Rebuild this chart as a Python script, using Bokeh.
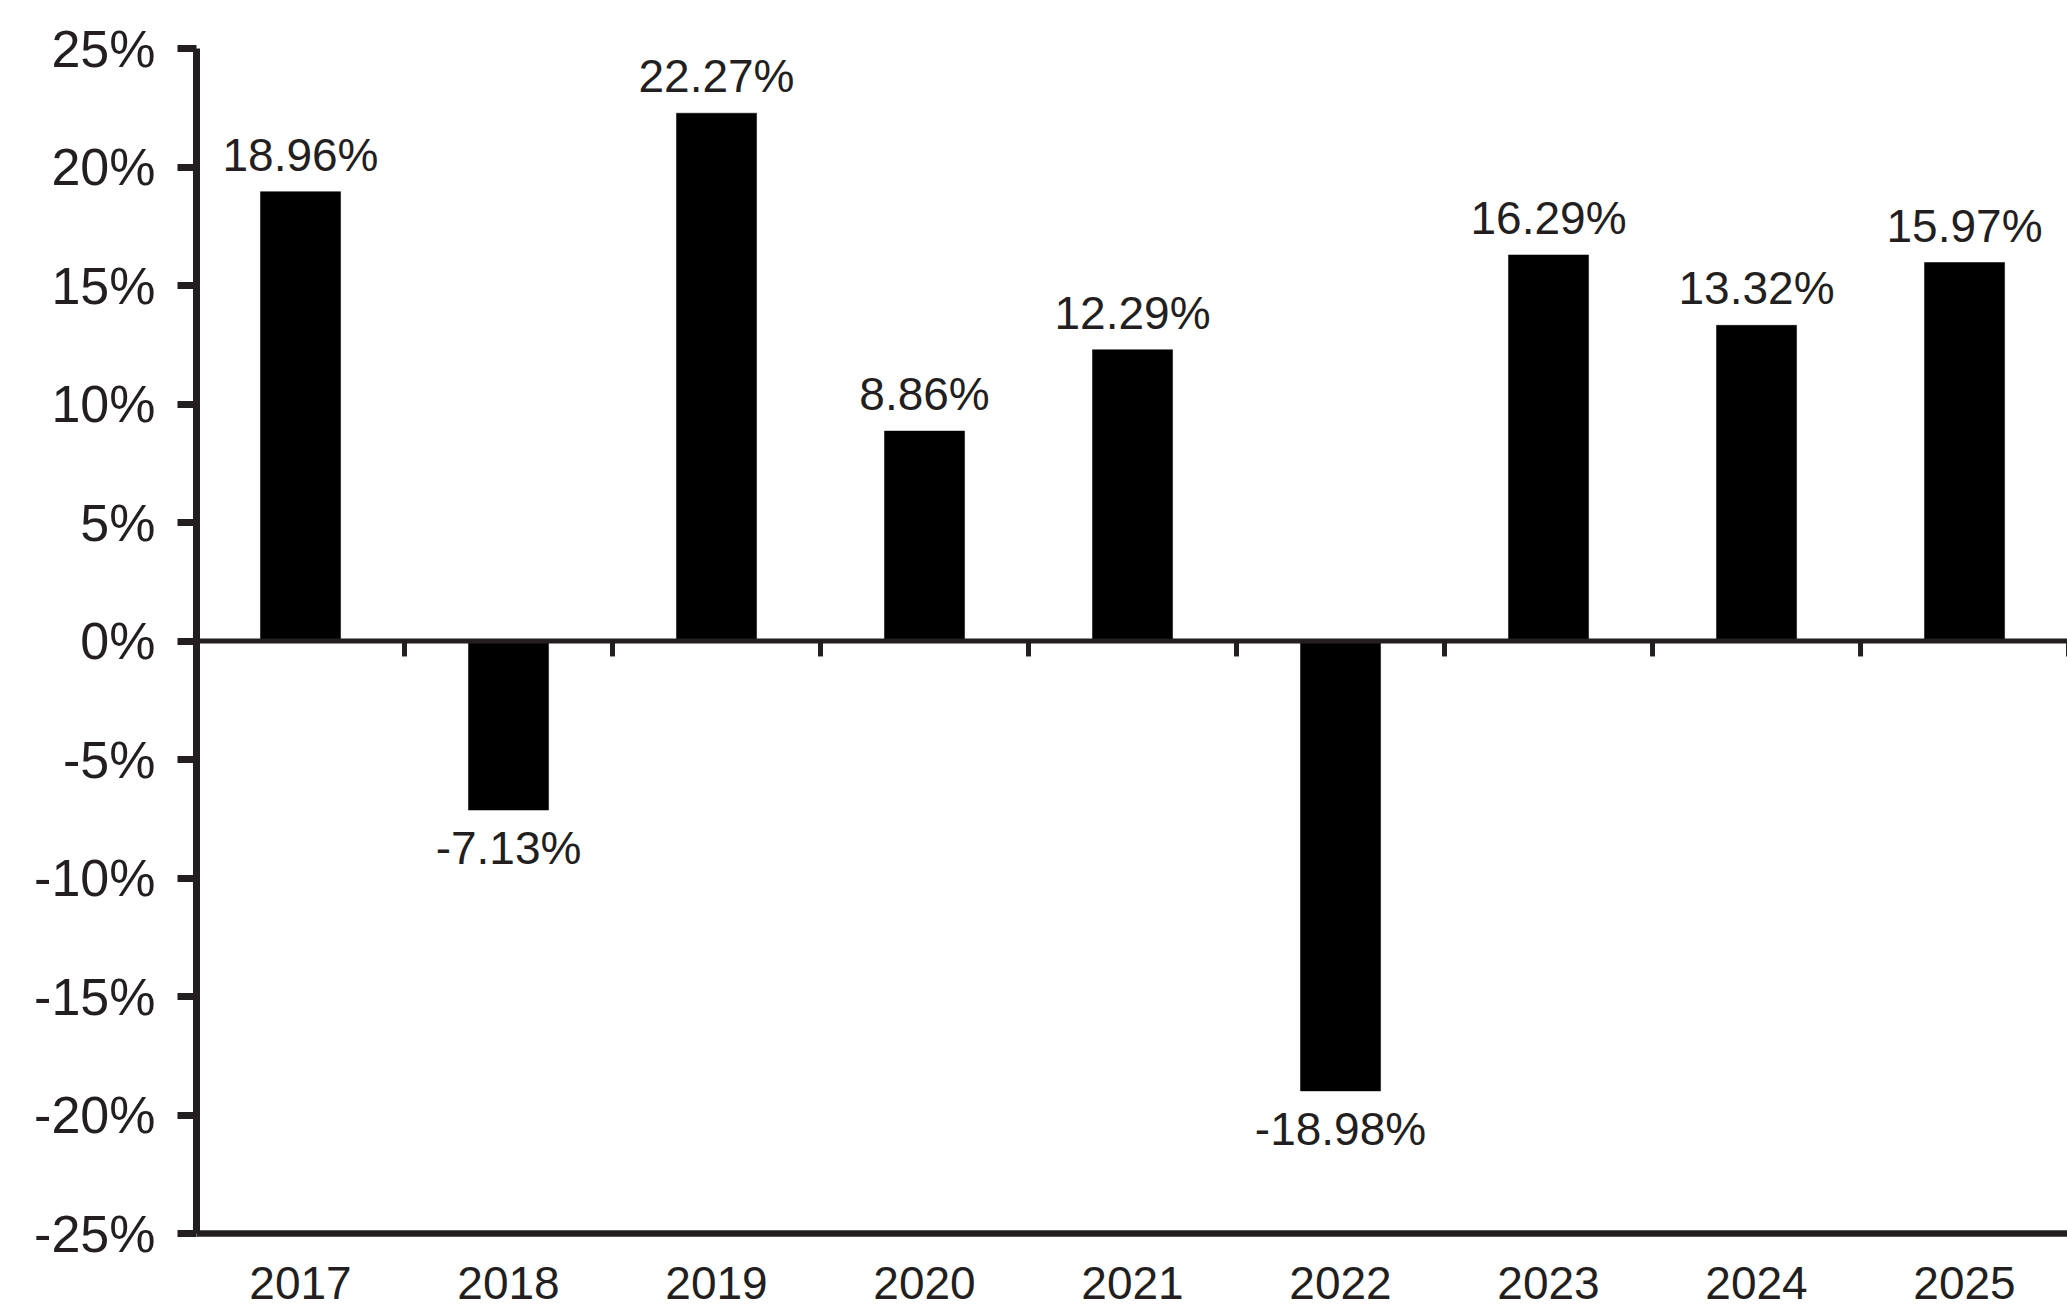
from bokeh.plotting import figure
from bokeh.models import Range1d, FixedTicker, Span, ColumnDataSource
from bokeh.core.properties import value
from bokeh.embed import file_html
from bokeh.resources import INLINE

# ---- data ----
YEARS = ["2017", "2018", "2019", "2020", "2021", "2022", "2023", "2024", "2025"]
RETURNS = [18.96, -7.13, 22.27, 8.86, 12.29, -18.98, 16.29, 13.32, 15.97]
Y_TICKS = [-25, -20, -15, -10, -5, 0, 5, 10, 15, 20, 25]
Y_TICK_LABELS = ["-25%", "-20%", "-15%", "-10%", "-5%", "0%", "5%", "10%", "15%", "20%", "25%"]

FONT = "Liberation Sans"
INK = "#231f20"

n = len(YEARS)
xs = [i + 0.5 for i in range(n)]
labels = [f"{v:.2f}%" for v in RETURNS]
offsets = [-37 if v >= 0 else 38 for v in RETURNS]

src = ColumnDataSource(dict(x=xs, top=RETURNS, label=labels, off=offsets, year=YEARS,
                            base=[Y_TICKS[0]] * n))

p = figure(width=2067, height=1308, output_backend="svg", toolbar_location=None,
           x_range=Range1d(0, 8.995), y_range=Range1d(-28.16, 25),
           x_axis_location=None, min_border_left=196, min_border_right=0,
           min_border_top=48, min_border_bottom=0)
p.outline_line_color = None
p.xgrid.visible = False
p.ygrid.visible = False
p.background_fill_color = "white"
p.border_fill_color = "white"

# bars
p.vbar(x="x", top="top", bottom=0, width=0.385, source=src,
       fill_color="black", line_color="black", line_width=0.5)

# zero line with category-boundary ticks
p.add_layout(Span(location=0, dimension="width", line_color=INK, line_width=5))
bounds = list(range(1, n + 1))
p.segment(x0=bounds, y0=[0] * n, x1=bounds, y1=[-0.65] * n, line_color=INK, line_width=5)

# bottom axis line
p.add_layout(Span(location=Y_TICKS[0], dimension="width", line_color=INK, line_width=6.5))

# value labels
p.text(x="x", y="top", text="label", y_offset="off", source=src,
       text_font=value(FONT), text_font_size="46px", text_color=INK,
       text_align="center", text_baseline="alphabetic")

# year labels
p.text(x="x", y="base", text="year", y_offset=49, source=src,
       text_font=value(FONT), text_font_size="46px", text_color=INK,
       text_align="center", text_baseline="alphabetic")

# y axis
ax = p.yaxis[0]
ax.ticker = FixedTicker(ticks=Y_TICKS)
ax.major_label_overrides = {t: l for t, l in zip(Y_TICKS, Y_TICK_LABELS)}
ax.bounds = (Y_TICKS[0], Y_TICKS[-1])
ax.axis_line_color = INK
ax.axis_line_width = 7
ax.major_tick_line_color = INK
ax.major_tick_line_width = 7
ax.major_tick_out = 19
ax.major_tick_in = 0
ax.minor_tick_line_color = None
ax.major_label_standoff = 22
ax.major_label_text_font = FONT
ax.major_label_text_font_size = "52px"
ax.major_label_text_color = INK

open("out.html", "w").write(file_html(p, INLINE))
